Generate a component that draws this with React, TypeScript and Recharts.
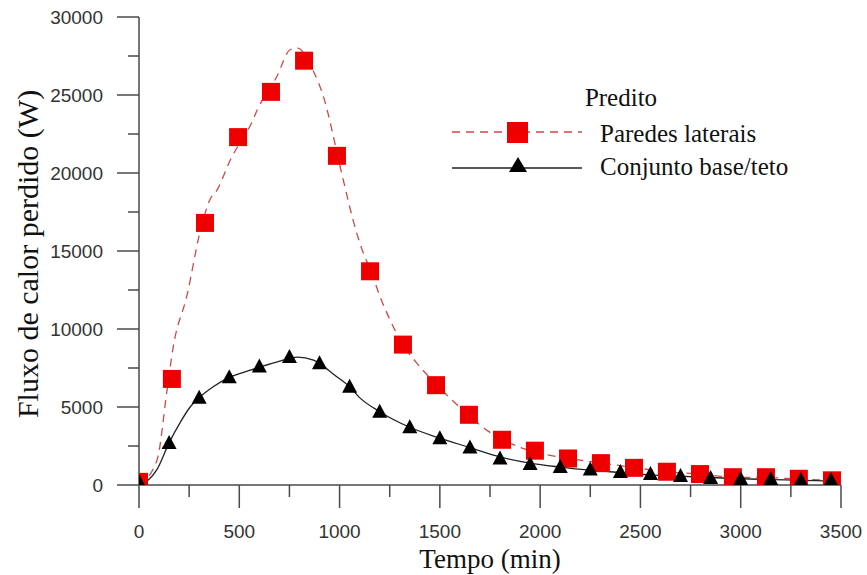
import React from 'react';
import { ComposedChart, Line, Scatter, XAxis, YAxis } from 'recharts';

// markers (Paredes laterais)
const wallTimes = [0, 164, 329, 494, 658, 823, 987, 1152, 1316, 1481, 1645, 1810, 1974, 2139, 2303, 2468, 2632, 2797, 2961, 3126, 3290, 3455];
const wallValues = [200, 6800, 16800, 22300, 25200, 27200, 21100, 13700, 9000, 6400, 4500, 2900, 2200, 1700, 1400, 1100, 850, 700, 500, 500, 400, 300];

// markers (Conjunto base/teto)
const baseTimes = [0, 150, 300, 450, 600, 750, 900, 1050, 1200, 1350, 1500, 1650, 1800, 1950, 2100, 2250, 2400, 2550, 2700, 2850, 3000, 3150, 3300, 3450];
const baseValues = [200, 2700, 5600, 6900, 7600, 8200, 7800, 6300, 4700, 3700, 3000, 2400, 1700, 1350, 1150, 1000, 830, 700, 580, 450, 380, 380, 320, 320];

// predicted curves
const wallCurveTimes = [0, 90, 140, 170, 240, 304, 354, 389, 454, 568, 588, 688, 753, 790, 867, 917, 1012, 1067, 1112, 1157, 1201, 1251, 1316, 1386, 1486, 1650, 1735, 1815, 1864, 2049, 2198, 2313, 2478, 2632, 2797, 2961, 3126, 3290, 3455];
const wallCurveValues = [0, 1600, 6100, 8800, 12200, 16200, 18300, 18900, 20800, 23400, 24000, 26200, 27900, 28000, 26600, 25000, 19900, 17000, 15100, 13700, 12100, 10600, 9000, 7800, 6400, 4400, 3500, 2900, 2600, 1900, 1600, 1400, 1100, 850, 700, 500, 480, 380, 300];

const baseCurveTimes = [0, 45, 90, 150, 205, 255, 300, 370, 450, 540, 690, 790, 870, 900, 970, 1050, 1100, 1200, 1350, 1500, 1650, 1800, 1950, 2100, 2250, 2400, 2550, 2700, 2850, 3000, 3150, 3300, 3450];
const baseCurveValues = [0, 300, 1000, 2700, 4000, 5000, 5600, 6300, 6900, 7300, 7900, 8200, 8000, 7800, 7100, 6300, 5600, 4700, 3700, 3000, 2400, 1800, 1400, 1150, 950, 800, 650, 560, 480, 400, 350, 300, 250];

const xTicks = [0, 250, 500, 750, 1000, 1250, 1500, 1750, 2000, 2250, 2500, 2750, 3000, 3250, 3500];
const yTicks = [0, 2500, 5000, 7500, 10000, 12500, 15000, 17500, 20000, 22500, 25000, 27500, 30000];

const zip = (xs: number[], ys: number[]) => xs.map((x, i) => ({ x, y: ys[i] }));

const wallPoints = zip(wallTimes, wallValues);
const basePoints = zip(baseTimes, baseValues);
const wallCurve = zip(wallCurveTimes, wallCurveValues);
const baseCurve = zip(baseCurveTimes, baseCurveValues);

const AXIS = '#4a4a4a';
const RED = '#ee0000';
const SANS = '"Liberation Sans", Arial, sans-serif';
const SERIF = '"Liberation Serif", "Times New Roman", serif';

const XTick = ({ x, y, payload }: any) => {
  const major = payload.value % 500 === 0;
  return (
    <g>
      <line x1={x} y1={y} x2={x} y2={y + (major ? 23 : 12)} stroke={AXIS} strokeWidth={1.5} />
      {major && (
        <text x={x} y={y + 53} textAnchor="middle" fontSize={19} fontFamily={SANS} fill="#333">
          {payload.value}
        </text>
      )}
    </g>
  );
};

const YTick = ({ x, y, payload }: any) => {
  const major = payload.value % 5000 === 0;
  return (
    <g>
      <line x1={x - (major ? 22 : 11)} y1={y} x2={x} y2={y} stroke={AXIS} strokeWidth={1.5} />
      {major && (
        <text x={x - 36} y={y + 7} textAnchor="end" fontSize={19} fontFamily={SANS} fill="#333">
          {payload.value}
        </text>
      )}
    </g>
  );
};

const Square = ({ cx, cy }: any) => <rect x={cx - 9} y={cy - 9} width={18} height={18} fill={RED} />;

const Triangle = ({ cx, cy }: any) => (
  <polygon points={`${cx},${cy - 8} ${cx + 7.5},${cy + 6} ${cx - 7.5},${cy + 6}`} fill="#000" />
);

const App: React.FC = () => {
  return (
    <div style={{ position: 'absolute', left: 0, top: 0, width: 867, height: 575, background: '#fff' }}>
      <ComposedChart width={867} height={575} margin={{ top: 17, right: 26, bottom: 0, left: 0 }}>
        <XAxis
          dataKey="x"
          type="number"
          domain={[0, 3500]}
          ticks={xTicks}
          interval={0}
          height={90}
          tickSize={0}
          tickMargin={0}
          tickLine={false}
          tick={<XTick />}
          axisLine={{ stroke: AXIS, strokeWidth: 1.5 }}
          allowDataOverflow
        />
        <YAxis
          dataKey="y"
          type="number"
          domain={[0, 30000]}
          ticks={yTicks}
          interval={0}
          width={139}
          tickSize={0}
          tickMargin={0}
          tickLine={false}
          tick={<YTick />}
          axisLine={{ stroke: AXIS, strokeWidth: 1.5 }}
          allowDataOverflow
        />
        <Line
          data={wallCurve}
          dataKey="y"
          type="monotone"
          stroke="#d04848"
          strokeWidth={1.3}
          strokeDasharray="8 6"
          dot={false}
          activeDot={false}
          isAnimationActive={false}
        />
        <Scatter data={wallPoints} dataKey="y" shape={<Square />} isAnimationActive={false} />
        <Line
          data={baseCurve}
          dataKey="y"
          type="monotone"
          stroke="#222"
          strokeWidth={1.3}
          dot={false}
          activeDot={false}
          isAnimationActive={false}
        />
        <Scatter data={basePoints} dataKey="y" shape={<Triangle />} isAnimationActive={false} />
      </ComposedChart>

      {/* titles and legend */}
      <svg width={867} height={575} style={{ position: 'absolute', left: 0, top: 0, pointerEvents: 'none' }}>
        <text
          x={0}
          y={0}
          transform="translate(38 254) rotate(-90)"
          textAnchor="middle"
          fontSize={30}
          fontFamily={SERIF}
          fill="#111"
        >
          Fluxo de calor perdido (W)
        </text>
        <text x={490} y={568} textAnchor="middle" fontSize={27} fontFamily={SERIF} fill="#111">
          Tempo (min)
        </text>

        <text x={621} y={106} textAnchor="middle" fontSize={25} fontFamily={SERIF} fill="#111">
          Predito
        </text>
        <line x1={452} y1={132} x2={582} y2={132} stroke="#d04848" strokeWidth={1.3} strokeDasharray="8 6" />
        <rect x={507} y={122} width={21} height={21} fill={RED} />
        <text x={600} y={142} fontSize={25} fontFamily={SERIF} fill="#111">
          Paredes laterais
        </text>
        <line x1={452} y1={168} x2={582} y2={168} stroke="#222" strokeWidth={1.3} />
        <polygon points="518,157 527,172 509,172" fill="#000" />
        <text x={600} y={175} fontSize={25} fontFamily={SERIF} fill="#111">
          Conjunto base/teto
        </text>
      </svg>
    </div>
  );
};

export default App;
